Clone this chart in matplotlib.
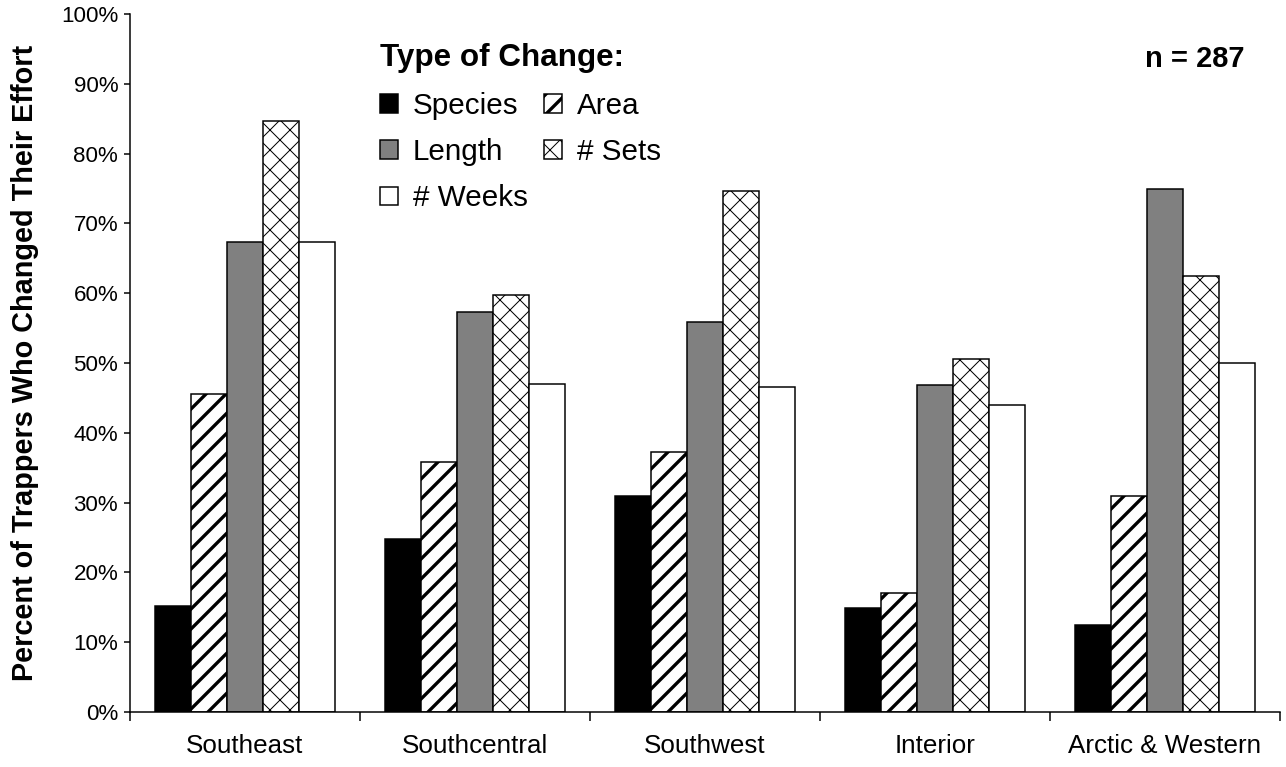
import numpy as np
import matplotlib
matplotlib.use('Agg')
import matplotlib.pyplot as plt
from matplotlib.ticker import FixedLocator, PercentFormatter

plt.rcParams['font.family'] = ['Liberation Sans', 'DejaVu Sans']

# data (percent of trappers)
regions = ['Southeast', 'Southcentral', 'Southwest', 'Interior', 'Arctic & Western']
species = [15.2, 24.8, 31.0, 14.9, 12.5]
area = [45.5, 35.8, 37.3, 17.0, 31.0]
length = [67.3, 57.3, 55.9, 46.9, 75.0]
sets = [84.7, 59.7, 74.7, 50.6, 62.5]
weeks = [67.3, 47.0, 46.6, 44.0, 50.0]
n_total = 287

# dpi 120 so hatch spacing comes out ~10 px
dpi = 120
fig = plt.figure(figsize=(1286/dpi, 767/dpi), dpi=dpi)
ax = fig.add_axes([130/1286, 55/767, 1150/1286, 698/767])

x = np.arange(len(regions))
w = 0.156
lw = 0.9

styles = [
    ('Species', species, dict(color='black', edgecolor='black'), 1.0),
    ('Area', area, dict(color='white', edgecolor='black', hatch='//'), 2.0),
    ('Length', length, dict(color='#808080', edgecolor='black'), 1.0),
    ('# Sets', sets, dict(color='white', edgecolor='black', hatch='xx'), 0.6),
    ('# Weeks', weeks, dict(color='white', edgecolor='black'), 1.0),
]

handles = {}
for i, (name, vals, kw, hlw) in enumerate(styles):
    with plt.rc_context({'hatch.linewidth': hlw}):
        bars = ax.bar(x + (i - 2)*w, vals, width=w, linewidth=lw, label=name, **kw)
    for b in bars:
        if hasattr(b, 'set_hatch_linewidth'):
            b.set_hatch_linewidth(hlw)
    handles[name] = (bars, hlw)

ax.set_xlim(-0.5, len(regions) - 0.5)
ax.set_ylim(0, 100)

for s in ['top', 'right']:
    ax.spines[s].set_visible(False)
for s in ['left', 'bottom']:
    ax.spines[s].set_linewidth(0.9)

ax.set_yticks(np.arange(0, 101, 10))
ax.yaxis.set_major_formatter(PercentFormatter(decimals=0))
ax.tick_params(axis='y', direction='out', length=3.6, width=0.9, pad=3.5, labelsize=13.4)

ax.set_xticks(x)
ax.set_xticklabels(regions)
ax.xaxis.set_minor_locator(FixedLocator(np.arange(-0.5, len(regions), 1.0)))
ax.tick_params(axis='x', which='major', length=0, pad=13, labelsize=15.6)
ax.tick_params(axis='x', which='minor', direction='out', length=5.4, width=0.9)

ax.set_ylabel('Percent of Trappers Who Changed Their Effort', fontsize=17.3, fontweight='bold')
ax.yaxis.set_label_coords(-0.079, 0.5)

# legend: column-wise fill -> Species, Length, # Weeks | Area, # Sets
order = ['Species', 'Length', '# Weeks', 'Area', '# Sets']
leg = ax.legend([handles[k][0] for k in order], order, loc='upper left',
                bbox_to_anchor=(0.2175, 0.958), ncol=2, frameon=False,
                fontsize=17.8, title='Type of Change:',
                title_fontproperties={'weight': 'bold', 'size': 18.8},
                alignment='left', handlelength=0.6, handleheight=0.6,
                handletextpad=0.5, columnspacing=0.55, labelspacing=0.62,
                borderpad=0, borderaxespad=0)
for p, k in zip(leg.get_patches(), order):
    if hasattr(p, 'set_hatch_linewidth'):
        p.set_hatch_linewidth(handles[k][1])

ax.text(0.9687, 0.935, f'n = {n_total}', transform=ax.transAxes, ha='right', va='center',
        fontsize=17.5, fontweight='bold')

fig.savefig('out.png', dpi=dpi)
